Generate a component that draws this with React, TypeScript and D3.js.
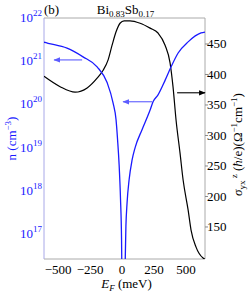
import React from 'react';
import * as d3 from 'd3';

// Fermi energy (meV) and carrier density n (cm^-3), hole side and electron side
const energyHoles = [-610, -578, -430, -305, -195, -117, -70, -47, -35, -23, -12, -4, -1];
const densityHoles = [2.75e21, 2.6e21, 2.0e21, 1.26e21, 7.4e20, 3.2e20, 1.07e20, 4.4e19, 1.5e19, 4e18, 6.2e17, 7.2e16, 1e16];

const energyElectrons = [22, 30, 39, 55, 78, 102, 156, 219, 242, 281, 336, 383, 438, 516, 617, 648];
const densityElectrons = [1e16, 1.5e17, 5.2e17, 1.8e18, 5.1e18, 1.0e19, 2.6e19, 7.4e19, 1.15e20, 1.66e20, 3.6e20, 7.4e20, 1.55e21, 2.8e21, 4.5e21, 4.7e21];

// spin Hall conductivity sigma_yx^z ((hbar/e)(Ohm^-1 cm^-1))
const energySigma = [-610, -484, -367, -273, -195, -148, -109, -78, -47, -16, 16, 62, 141, 219, 281, 336, 375, 398, 422, 453, 477, 516, 539, 578, 633, 648];
const sigmaValues = [397, 380, 371, 378, 394, 407, 424, 448, 470, 484, 488, 488, 484, 476, 468, 448, 419, 380, 325, 271, 227, 178, 145, 117, 99, 97];

const xTicks = [-500, -250, 0, 250, 500];
const nTickExponents = [17, 18, 19, 20, 21, 22];
const sigmaTicks = [150, 200, 250, 300, 350, 400, 450];

// arrows: [fromE, toE, value]
const densityArrows = [
    [-312, -531, 1.07e21],
    [234, 8, 1.15e20],
];
const sigmaArrow = [430, 648, 370];

const W = 249;
const H = 293;
const margin = { top: 18, right: 44, bottom: 34, left: 44 };
const FONT = '"Liberation Serif", "DejaVu Serif", serif';
const BLUE = '#1a1aff';
const FS = 13;
const SS = 9;

const App: React.FC = () => {
    const x = d3.scaleLinear().domain([-610, 648]).range([margin.left, W - margin.right]);
    const yN = d3.scaleLog().domain([Math.pow(10, 16.42), 1e22]).range([H - margin.bottom, margin.top]);
    const yS = d3.scaleLinear().domain([97.5, 492.6]).range([H - margin.bottom, margin.top]);

    const line = d3.line<[number, number]>().curve(d3.curveMonotoneX);

    const holePath = line(energyHoles.map((e, i) => [x(e), yN(densityHoles[i])] as [number, number]));
    const elecPath = line(energyElectrons.map((e, i) => [x(e), yN(densityElectrons[i])] as [number, number]));
    const sigmaPath = line(energySigma.map((e, i) => [x(e), yS(sigmaValues[i])] as [number, number]));

    const left = margin.left;
    const right = W - margin.right;
    const top = margin.top;
    const bottom = H - margin.bottom;

    return (
        <svg width={W} height={H} style={{ position: 'absolute', left: 0, top: 0, background: '#fff', fontFamily: FONT }}>
            <defs>
                <clipPath id="plot">
                    <rect x={left} y={top} width={right - left} height={bottom - top} />
                </clipPath>
                <marker id="headBlue" viewBox="0 0 10 10" refX="9" refY="5" markerWidth="6" markerHeight="6" orient="auto">
                    <path d="M0,1 L10,5 L0,9 z" fill="#5c5cff" />
                </marker>
                <marker id="headBlack" viewBox="0 0 10 10" refX="9" refY="5" markerWidth="6" markerHeight="6" orient="auto">
                    <path d="M0,1 L10,5 L0,9 z" fill="#000" />
                </marker>
            </defs>

            {/* frame */}
            <line x1={left} x2={right} y1={top} y2={top} stroke="#aaa" />
            <line x1={left} x2={right} y1={bottom} y2={bottom} stroke="#aaa" />
            <line x1={right} x2={right} y1={top} y2={bottom} stroke="#aaa" />
            <line x1={left} x2={left} y1={top} y2={bottom} stroke="#a8a8e8" />

            {/* right ticks */}
            {sigmaTicks.map(t => (
                <line key={t} x1={right} x2={right + 3} y1={yS(t)} y2={yS(t)} stroke="#888" />
            ))}

            {/* curves */}
            <g clipPath="url(#plot)" fill="none">
                <path d={sigmaPath || ''} stroke="#000" strokeWidth={1.2} />
                <path d={holePath || ''} stroke={BLUE} strokeWidth={1.3} />
                <path d={elecPath || ''} stroke={BLUE} strokeWidth={1.3} />
            </g>

            {/* arrows */}
            {densityArrows.map((a, i) => (
                <line key={i} x1={x(a[0])} x2={x(a[1])} y1={yN(a[2])} y2={yN(a[2])}
                    stroke="#5c5cff" strokeWidth={1.1} markerEnd="url(#headBlue)" />
            ))}
            <line x1={x(sigmaArrow[0])} x2={x(sigmaArrow[1])} y1={yS(sigmaArrow[2])} y2={yS(sigmaArrow[2])}
                stroke="#000" strokeWidth={1.1} markerEnd="url(#headBlack)" />

            {/* x tick labels */}
            {xTicks.map(t => (
                <text key={t} x={x(t)} y={bottom + 15} textAnchor="middle" fontSize={FS} fill="#000">
                    {t < 0 ? '\u2212' + Math.abs(t) : String(t)}
                </text>
            ))}

            {/* left tick labels */}
            {nTickExponents.map(p => (
                <text key={p} x={left - 2} y={yN(Math.pow(10, p)) + 4} textAnchor="end" fontSize={FS} fill={BLUE}>
                    10<tspan dy={-6} fontSize={SS}>{p}</tspan>
                </text>
            ))}

            {/* right tick labels */}
            {sigmaTicks.map(t => (
                <text key={t} x={right + 2} y={yS(t) + 4.5} fontSize={FS} fill="#000">{t}</text>
            ))}

            {/* titles */}
            <text x={left} y={14} fontSize={FS} fill="#000">(b)</text>
            <text x={(left + right) / 2 + 1} y={14} fontSize={FS} textAnchor="middle" fill="#000">
                Bi<tspan dy={3} fontSize={SS}>0.83</tspan><tspan dy={-3}>Sb</tspan><tspan dy={3} fontSize={SS}>0.17</tspan>
            </text>

            <text x={(left + right) / 2 + 2} y={H - 5} fontSize={FS} textAnchor="middle" fill="#000">
                <tspan fontStyle="italic">E</tspan><tspan dy={3} fontSize={SS} fontStyle="italic">F</tspan><tspan dy={-3}> (meV)</tspan>
            </text>

            <text transform={`translate(16,${(top + bottom) / 2}) rotate(-90)`} fontSize={FS}
                textAnchor="middle" fill={BLUE}>
                n (cm<tspan dy={-5} fontSize={SS}>{'\u22123'}</tspan><tspan dy={5}>)</tspan>
            </text>

            <text transform={`translate(242,${(top + bottom) / 2 + 6}) rotate(-90)`} fontSize={FS}
                textAnchor="middle" fill="#000">
                <tspan fontStyle="italic">{'\u03c3'}</tspan>
                <tspan dy={3} fontSize={SS}>yx</tspan>
                <tspan dy={-8} fontSize={SS}> z</tspan>
                <tspan dy={5}> (</tspan><tspan fontStyle="italic">{'\u0127'}</tspan><tspan>/e)(Ω</tspan>
                <tspan dy={-5} fontSize={SS}>{'\u22121'}</tspan>
                <tspan dy={5}>cm</tspan>
                <tspan dy={-5} fontSize={SS}>{'\u22121'}</tspan>
                <tspan dy={5}>)</tspan>
            </text>
        </svg>
    );
};

export default App;
